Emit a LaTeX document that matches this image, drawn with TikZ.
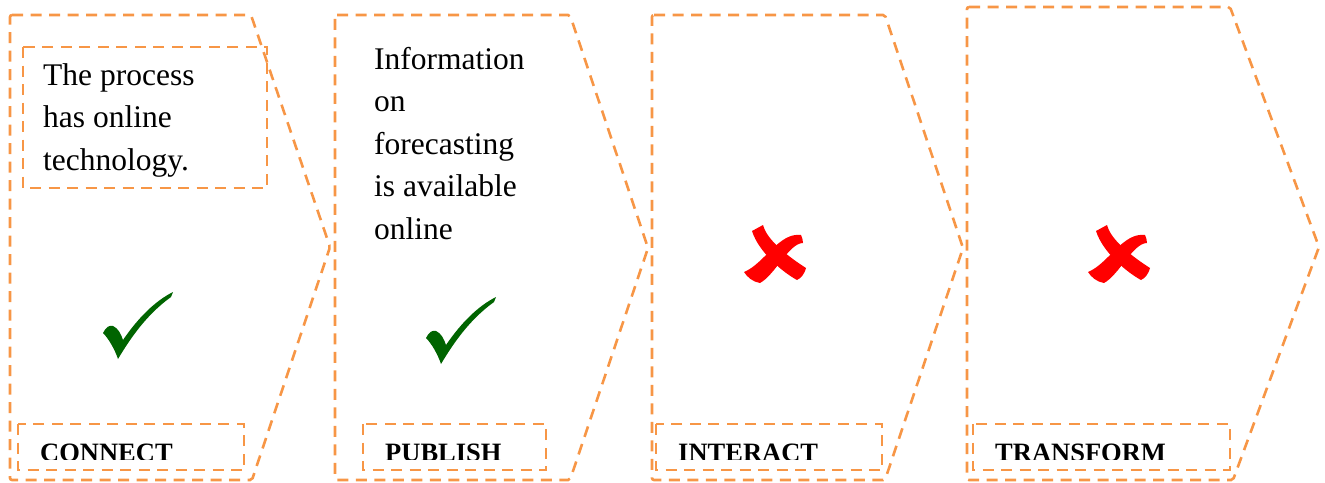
\documentclass[tikz,border=0pt]{standalone}
\usepackage{fontspec}
\setmainfont{Liberation Serif}
\begin{document}
\begin{tikzpicture}[x=1pt,y=-1pt,
  orangeline/.style={draw=boxorange, line width=2.6pt, dash pattern=on 11pt off 7.5pt},
  stage/.style={orangeline, rounded corners=2pt},
  labelbox/.style={orangeline},
  bodytext/.style={anchor=base west, inner sep=0pt, align=left,
    font=\fontsize{31.5}{42.5}\selectfont},
  labeltext/.style={anchor=base west, inner sep=0pt,
    font=\fontsize{26.5}{30}\selectfont\bfseries},
  pics/tick/.style={code={
    \fill[tickgreen] (-35,8) .. controls (-32,2) and (-29,0) .. (-25,1)
      .. controls (-20,3) and (-17,9) .. (-15,15)
      .. controls (0,-7) and (17,-24) .. (35,-33)
      -- (33,-28)
      .. controls (8,-10) and (-8,14) .. (-20,34)
      .. controls (-23,25) and (-29,14) .. cycle;
  }},
  pics/cross/.style={code={
    % stroke from upper left to lower right
    \fill[crossred] (-24,-23) -- (-13,-29)
      .. controls (-10,-17) and (5,-2) .. (30,14)
      .. controls (28,21) and (25,24) .. (21,26)
      .. controls (8,19) and (-17,-1) .. cycle;
    % stroke from upper right to lower left
    \fill[crossred] (-32,18) .. controls (-12,10) and (3,-22) .. (25,-19)
      .. controls (26,-17) and (27,-14) .. (27,-11)
      .. controls (13,-11) and (-1,21) .. (-16,29)
      .. controls (-23,28) and (-29,23) .. cycle;
  }}]
\definecolor{boxorange}{RGB}{247,150,70}
\definecolor{tickgreen}{RGB}{0,100,0}
\definecolor{crossred}{RGB}{255,0,0}
\useasboundingbox (0,0) rectangle (1325,482);

% stage outlines
\draw[stage] (10,15) -- (251,15) -- (330,247) -- (252,480) -- (10,480) -- cycle;
\draw[stage] (335,15) -- (570,15) -- (648,248) -- (570,480) -- (335,480) -- cycle;
\draw[stage] (652,15) -- (885,15) -- (963,248) -- (885,480) -- (652,480) -- cycle;
\draw[stage] (967,7) -- (1230,7) -- (1319,247) -- (1233,480) -- (967,480) -- cycle;

% description of the first stage (anchored at its last baseline)
\draw[labelbox] (23,47) rectangle (267,188);
\node[bodytext] (connectdesc) at (43,170) {The process\\has online\\technology.};

% description of the second stage (anchored at its last baseline)
\node[bodytext] (publishdesc) at (374,239) {Information\\on\\forecasting\\is available\\online};

% status marks
\pic at (138,325) {tick};
\pic at (461,330) {tick};
\pic at (776,254) {cross};
\pic at (1120,254) {cross};

% stage names
\draw[labelbox] (18,424) rectangle (244,470);
\draw[labelbox] (363,424) rectangle (546,470);
\draw[labelbox] (656,424) rectangle (882,470);
\draw[labelbox] (973,424) rectangle (1230,470);
\begin{scope}
  \clip (0,400) rectangle (1325,459.5);
  \node[labeltext] (connect) at (40,461) {CONNECT};
  \node[labeltext] (publish) at (385,461) {PUBLISH};
  \node[labeltext] (interact) at (678,461) {INTERACT};
  \node[labeltext] (transform) at (995,461) {TRANSFORM};
\end{scope}
\end{tikzpicture}
\end{document}
